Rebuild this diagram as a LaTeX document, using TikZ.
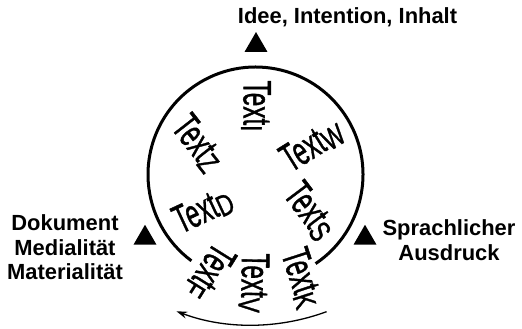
\documentclass[tikz,border=0pt]{standalone}
\usepackage{fontspec}
\setmainfont{Liberation Sans}
\newfontfamily\signfont[FakeBold=1.3]{Liberation Sans}
\usetikzlibrary{arrows.meta, shapes.geometric}
\newcommand{\textsign}[1]{\scalebox{0.61}[1]{Text}\raisebox{-2.5bp}{\scalebox{0.75}[1]{\fontsize{30}{30}\selectfont #1}}}
\tikzset{
  every picture/.style={line width=3bp},
  sign/.style={font=\fontsize{40}{40}\signfont, inner sep=0pt},
  marker/.style={regular polygon, regular polygon sides=3, fill=black, draw=none, inner sep=0pt, minimum size=26.5bp},
  caption/.style={font=\fontsize{22}{24.5}\selectfont\bfseries, align=center, inner sep=0pt},
  turn/.style={-{Stealth[length=11bp, width=7bp]}, line width=1.3bp},
}

\begin{document}
\begin{tikzpicture}[x=1bp, y=1bp]
  \useasboundingbox (0,0) rectangle (522,328);
  % circle of texts
  \coordinate (ctr) at (255.5,153.5);
  \draw ([shift={(-56:107.5)}]ctr) arc[start angle=-56, end angle=233.4, radius=107.5];
  \node[sign, rotate=-90] (tI) at (256,222) {\textsign{I}};
  \node[sign, rotate=32] (tW) at (312,183) {\textsign{W}};
  \node[sign, rotate=-52] (tZ) at (198,185) {\textsign{Z}};
  \node[sign, rotate=25] (tD) at (203,118) {\textsign{D}};
  \node[sign, rotate=-53] (tS) at (310,117) {\textsign{S}};
  \node[sign, rotate=-72] (tK) at (302,50) {\textsign{K}};
  \node[sign, rotate=-91] (tV) at (254,45) {\textsign{V}};
  \node[sign, rotate=-122] (tF) at (210,56) {\textsign{F}};
  % markers and captions
  \node[marker] (mtop) at (256,282.7) {};
  \node[marker] (mleft) at (145,90) {};
  \node[marker] (mright) at (365,90) {};
  \node[caption] (ctop) at (347.5,311) {Idee, Intention, Inhalt};
  \node[caption] (cleft) at (65,80.5) {Dokument\\Medialität\\Materialität};
  \node[caption] (cright) at (449,88) {Sprachlicher\\Ausdruck};
  % turning arrow
  \coordinate (arcc) at (252,218);
  \draw[turn] ([shift={(-69.7:215)}]arcc) arc[start angle=-69.7, end angle=-110.6, radius=215];
\end{tikzpicture}
\end{document}
